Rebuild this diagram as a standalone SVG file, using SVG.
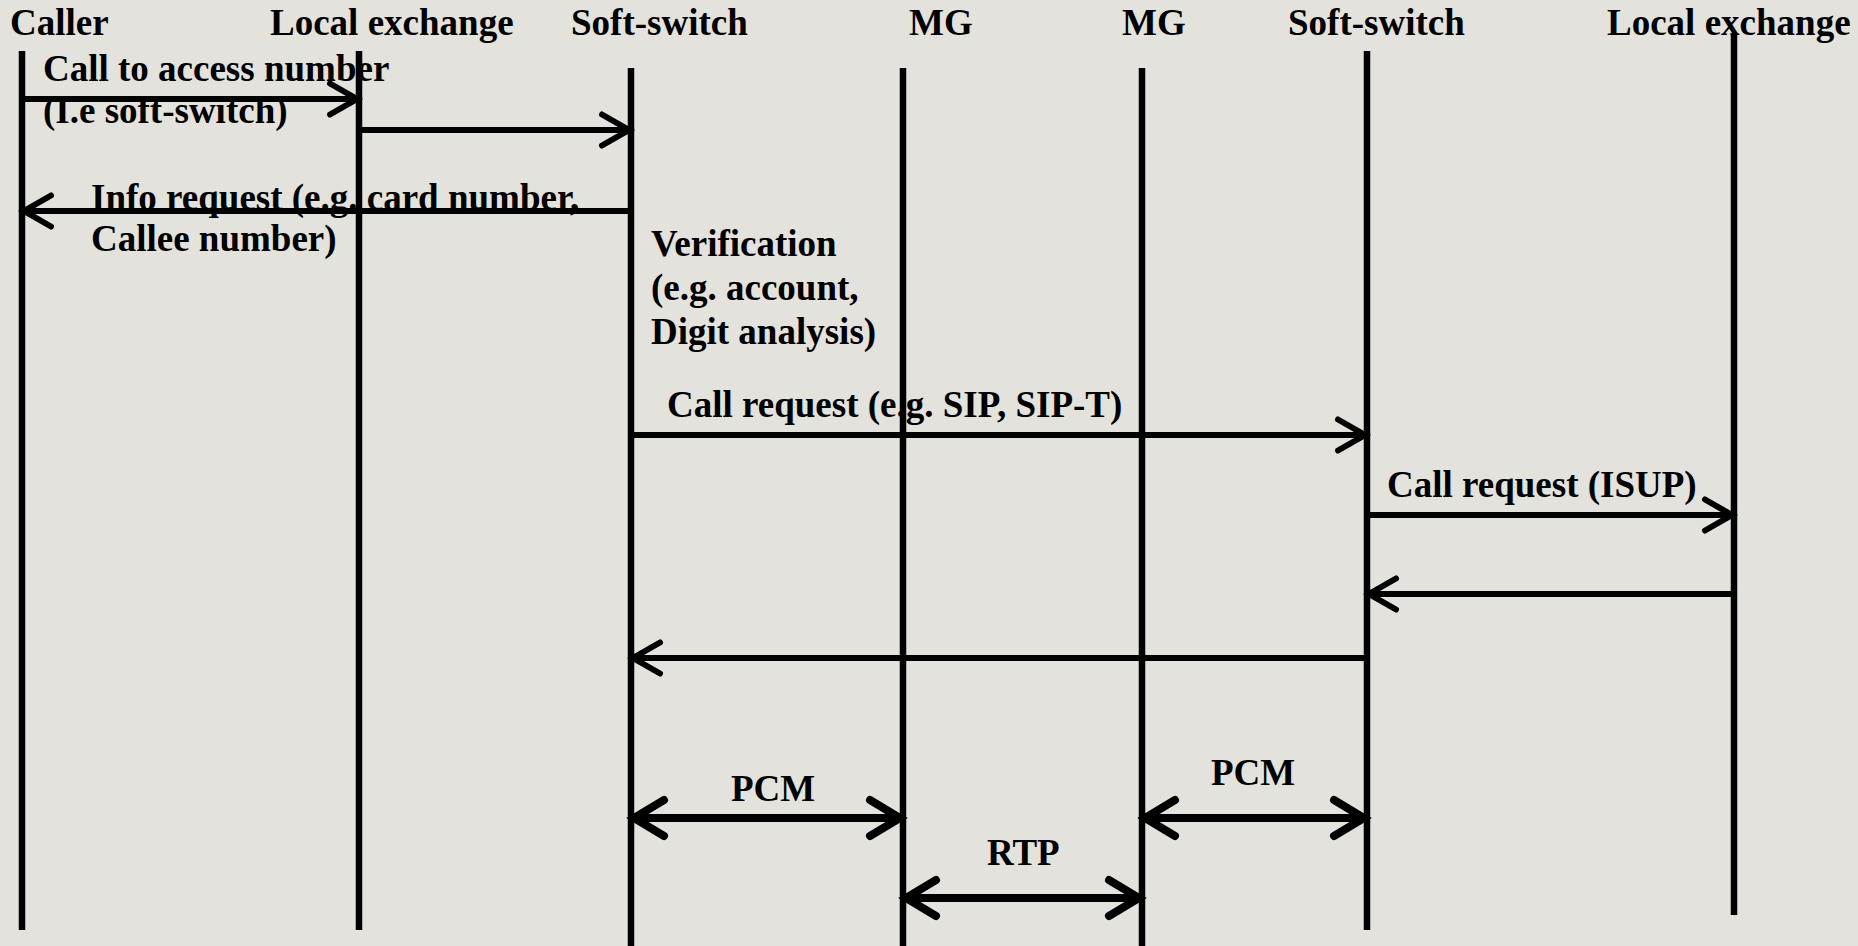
<svg xmlns="http://www.w3.org/2000/svg" width="1858" height="946" viewBox="0 0 1858 946">
<style>
text{font-family:"Liberation Serif","Times New Roman",serif;font-weight:bold;font-size:37px;fill:#000}
.life{stroke:#000;stroke-width:6.5;fill:none}
.msg{stroke:#000;stroke-width:6;fill:none;marker-end:url(#head)}
.dbl{stroke:#000;stroke-width:8;fill:none;marker-start:url(#bighead);marker-end:url(#bighead)}
</style>
<defs>
<marker id="head" markerUnits="userSpaceOnUse" viewBox="-40 -25 50 50" refX="0" refY="0" markerWidth="50" markerHeight="50" orient="auto-start-reverse">
<path d="M-27,-15.5 L0,0 L-27,15.5" fill="none" stroke="#000" stroke-width="6" stroke-linecap="round" stroke-linejoin="miter"/>
</marker>
<marker id="bighead" markerUnits="userSpaceOnUse" viewBox="-45 -30 55 60" refX="0" refY="0" markerWidth="55" markerHeight="60" orient="auto-start-reverse">
<path d="M-30,-18 L0,0 L-30,18" fill="none" stroke="#000" stroke-width="8" stroke-linecap="round" stroke-linejoin="miter"/>
</marker>
</defs>
<rect x="0" y="0" width="1858" height="946" fill="#E4E2DC"/>
<g id="labels">
<text x="43" y="81">Call to access number</text>
<text x="43" y="123">(I.e soft-switch)</text>
<text x="91" y="210">Info request (e.g. card number,</text>
<text x="91" y="251">Callee number)</text>
<text x="651" y="256">Verification</text>
<text x="651" y="300">(e.g. account,</text>
<text x="651" y="344">Digit analysis)</text>
<text x="667" y="417">Call request (e.g. SIP, SIP-T)</text>
<text x="1387" y="497">Call request (ISUP)</text>
<text x="731" y="801">PCM</text>
<text x="1211" y="785">PCM</text>
<text x="987" y="865">RTP</text>
</g>
<g id="caller"><text x="10" y="35">Caller</text><line class="life" x1="22" y1="51" x2="22" y2="930"/></g>
<g id="local-exchange-1"><text x="270" y="35">Local exchange</text><line class="life" x1="359" y1="51" x2="359" y2="930"/></g>
<g id="soft-switch-1"><text x="571" y="35">Soft-switch</text><line class="life" x1="631" y1="68" x2="631" y2="946"/></g>
<g id="mg-1"><text x="909" y="35">MG</text><line class="life" x1="903" y1="68" x2="903" y2="946"/></g>
<g id="mg-2"><text x="1122" y="35">MG</text><line class="life" x1="1142" y1="68" x2="1142" y2="946"/></g>
<g id="soft-switch-2"><text x="1288" y="35">Soft-switch</text><line class="life" x1="1367" y1="51" x2="1367" y2="930"/></g>
<g id="local-exchange-2"><text x="1607" y="35">Local exchange</text><line class="life" x1="1734" y1="33" x2="1734" y2="915"/></g>
<g id="connectors">
<line class="msg" x1="22" y1="99" x2="357" y2="99"/>
<line class="msg" x1="359" y1="130" x2="629" y2="130"/>
<line class="msg" x1="631" y1="211" x2="24" y2="211"/>
<line class="msg" x1="631" y1="435" x2="1365" y2="435"/>
<line class="msg" x1="1367" y1="515" x2="1732" y2="515"/>
<line class="msg" x1="1734" y1="594" x2="1369" y2="594"/>
<line class="msg" x1="1367" y1="658" x2="633" y2="658"/>
<line class="dbl" x1="634" y1="818" x2="900" y2="818"/>
<line class="dbl" x1="1145" y1="818" x2="1364" y2="818"/>
<line class="dbl" x1="906" y1="898" x2="1139" y2="898"/>
</g>
</svg>
